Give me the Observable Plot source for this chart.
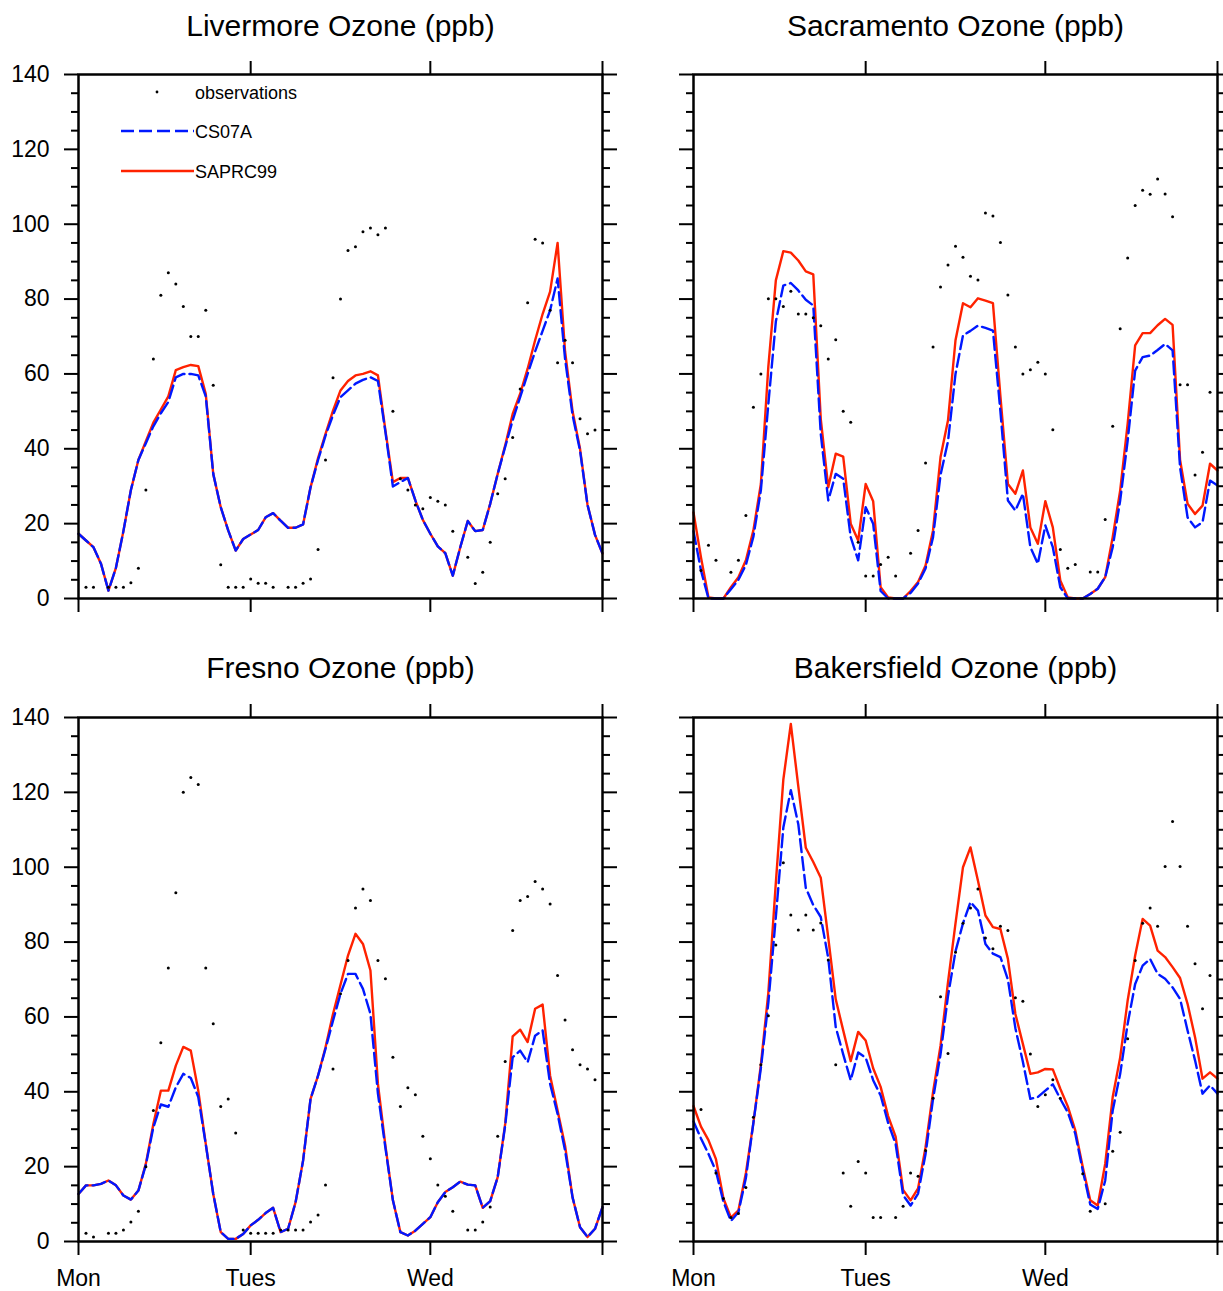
<!DOCTYPE html>
<html><head><meta charset="utf-8">
<script src="https://cdn.jsdelivr.net/npm/d3@7"></script>
<script src="https://cdn.jsdelivr.net/npm/@observablehq/plot@0.6"></script>
<style>
body{margin:0;background:#fff;overflow:hidden}
#wrap{position:relative;width:1223px;height:1291px;overflow:hidden;background:#fff}
.p{position:absolute}
.p svg{max-width:none !important}
</style></head><body><div id="wrap"></div>
<script>
// hour index along the three-day period (Mon 00 ... )
const hours = d3.range(71);
const xTicks = [0, 23, 47, 70];
const xTopTicks = [23, 47, 70];
const dayLabels = ["Mon", "Tues", "Wed", ""];
const yMajor = [0, 20, 40, 60, 80, 100, 120, 140];
const yMinor = [5,10,15,25,30,35,45,50,55,65,70,75,85,90,95,105,110,115,125,130,135];
const seriesNames = ["observations", "CS07A", "SAPRC99"];

const livermoreSAPRC99 = [
17.3,15.5,13.7,9.3,2.1,8.2,18,29,37,42,
47,50.5,54,61,61.8,62.4,62.1,54.7,33.3,24.4,
18.2,12.8,15.9,17.1,18.3,21.7,22.8,20.8,18.9,18.9,
19.8,29.7,37.5,44,50.2,55.6,58.1,59.6,60,60.7,
59.6,44.9,31.1,32.2,32.2,26.2,21,17.3,13.9,12.1,
6.1,13.7,20.7,18,18.3,25.3,33.3,40.9,49.3,54.7,
61.4,69,76,82,95,66,50,40,25,17,
12];
const livermoreCS07A = [
17.3,15.5,13.7,9.3,2.1,8.2,18,29,37,41.5,
46,49.5,52.5,59.1,60,60,59.6,54,33.3,24.4,
18.2,12.8,15.9,17.1,18.3,21.7,22.8,20.8,18.9,18.9,
19.8,29.7,37,43.5,49,53.8,55.6,57.4,58.4,59.1,
58.1,44.5,29.9,31.1,32.2,26.2,21,17.3,13.9,12.1,
6.1,13.7,20.7,18,18.3,25.3,33.3,40.5,47.6,53.8,
60,66,71.5,77,85.5,64,49,39.5,25,17,
12];
const livermoreObs = [
null,3,3,null,3,3,3,4.2,8.1,29,
64,81,87,84,78,70,70,77,57,9,
3,3,3,5.2,4.1,4.1,3,null,3,3,
4.1,5.2,13.1,37,59,80,93,94,98,99,
97.2,99,50,32,29,25,24,27,26,25,
18,null,11,4,7,15,28,32,43,56,
79,96,95,77,63,69,63,48,44,45,
null];

const sacramentoSAPRC99 = [
23,11,0.3,0,0,3,5.7,10.2,18.2,30.6,
62,85,92.8,92.4,90.3,87.4,86.6,48,29.7,38.7,
37.9,20,15.5,30.6,26,3,0.3,0,0,2,
4.4,8.8,18.2,37.8,47.6,69,78.9,77.8,80.2,79.6,
78.9,54,30.6,28,34.2,19,14.6,26,19,4.8,
0.3,0,0,1.2,2.6,5.7,16.4,28.9,46.7,67.6,
70.9,70.9,73,74.7,73.1,37,25.3,22.6,24.8,36,
34.2];
const sacramentoCS07A = [
18,7.5,0,0,0,2.5,5,9,16.5,28.9,
52,74,83.6,84.3,82.3,79.8,78.3,44,26.2,33.3,
32,16.4,10.2,24.4,20,2,0,0,0,1.5,
4,8,16.4,33,42,60,70.3,71.5,72.9,72.3,
71.6,50,26.2,23.5,28,13.7,9.3,19.5,13.7,3,
0,0,0,1.2,2.6,5.7,13.7,26.2,42.2,60.9,
64.5,64.9,66.4,68,66.3,35,21.7,19,20.4,31.5,
30.2];
const sacramentoObs = [
null,7.5,14.2,10.2,null,7,10.2,22.2,51.1,60,
80.1,80.1,78,82.1,76,76,75,72.9,64,69.1,
50,47.1,15,6,6,9.1,11,6,null,12.1,
18.2,36.2,67.2,83.2,89.1,94.1,91.2,86.1,85.1,103,
102.2,95.1,81.1,67.2,60,61.1,63.1,60,45.1,13.1,
8.1,9.1,null,7.1,7.1,21.1,46,72.1,91,105,
109.1,108,112.1,108.1,102,57.1,57.1,33,39.1,55.1,
null];

const fresnoSAPRC99 = [
12.7,15,15,15.4,16.3,15,12.3,11.2,13.6,20.8,
31.4,40.3,40.3,47,52,51,40.3,26.1,12.7,2.5,
0.7,0.7,2,4.3,5.8,7.6,9,2.5,3.4,10.5,
21.6,38.1,44.3,51.9,60.8,68.6,76.4,82.2,79.5,72.4,
42.1,25.6,11,2.5,1.6,2.9,4.7,6.5,10.5,13.2,
14.5,16,15.2,15,9,10.8,17.2,31.4,54.8,56.6,
53.3,62.2,63.3,44.3,35,25.6,11.8,3.8,1.2,3.4,
9.2];
const fresnoCS07A = [
12.7,15,15,15.4,16.3,15,12.3,11.2,13.6,20.5,
30.5,36.6,36,41.2,44.8,43.7,38.6,26,12.7,2.5,
0.7,0.7,2,4.3,5.8,7.6,9,2.5,3.4,10.5,
21.6,38.1,44.3,51.5,59,66.2,71.5,71.5,67.5,60.8,
39.5,25,11,2.5,1.6,2.9,4.7,6.5,10.5,13.2,
14.5,16,15.2,15,9,10.8,17.2,31,49.2,51,
47.9,55,56.4,42.1,34.1,24.3,11.8,3.8,1.2,3.4,
9.2];
const fresnoObs = [
null,2.2,1.2,null,2.2,2.2,3.1,5.2,8.1,20,
35,53.1,73.1,93.2,120,124,122.1,73.1,58.2,36.1,
38.1,29,3.1,2.2,2.2,2.2,2.2,3.1,3.1,3.1,
3.1,5.2,7.1,15.1,46.1,66.2,75.1,89.1,94.2,91.1,
75.1,70.2,49.2,36.1,41.1,39.2,28.1,22.1,15.1,12.1,
8.1,null,3.1,3.1,5.2,9.2,28.1,48.1,83.1,91.1,
92.2,96.2,94.2,90.2,71.1,59.2,51.2,47.2,46.1,43.2,
null];

const bakersfieldSAPRC99 = [
36.2,30.7,27.1,22,11.5,6.4,8.3,18.3,31.7,47.2,
66.5,95.9,123.4,138.3,121.6,105.2,101.4,97.2,81.2,64.7,
56.4,48.2,56,53.7,46.3,41.3,33.5,28,13.8,11,
14.2,25.2,39.9,52.3,69.3,85,100,105.3,96.4,87.1,
84,83.5,75.5,60.8,52.8,44.8,45.2,46.1,46,40.8,
36.1,29.7,19.9,11,9.6,20.8,38.6,49.2,64.4,76.4,
86.2,84.4,77.7,76,73.3,70.4,63.5,54.6,43.5,45.2,
43.5];
const bakersfieldCS07A = [
32.1,27.5,23.4,18.8,10.6,5.5,7.8,17,31.7,46.3,
63.8,86.7,110.6,120.6,111.5,94.5,89.9,86.7,75.7,57.3,
50,43.1,50.5,49.1,43.1,39,31.7,26.1,12.4,9.6,
12.8,23.4,38.1,50,65.6,77.5,85,90.7,88.4,79.5,
76.9,76,70,57,48,38.1,38.6,40.3,42,38.1,
34.5,28.8,19,9.9,8.7,16.3,35,44.8,58.2,68.8,
73.7,75.5,71.5,70.2,67.9,64.8,56.4,48.4,39.5,41.7,
39.5];
const bakersfieldObs = [
null,35.3,null,18.3,11.5,6.4,7.5,14.4,33.2,47.2,
60.3,79.2,101.2,87.2,83.2,87.2,83.2,85.1,75.2,47.2,
18.3,9.4,21.4,18.3,6.4,6.4,null,6.4,9.4,18.3,
17.4,24.3,38.3,65.4,50.2,77.3,85,89.1,94.2,81.1,
78.2,84.2,83.1,65.1,64.2,50.1,36.1,39.2,43.2,38.3,
null,null,18.1,8.1,null,10.1,24.1,29.2,54.2,75.1,
85,89.1,84.2,100.2,112.2,100.2,84.2,74.2,62.2,71.1,
null];

const stations = [
  {title: "Livermore Ozone (ppb)", obs: livermoreObs, cs: livermoreCS07A, sap: livermoreSAPRC99, col: 0, row: 0, legend: true},
  {title: "Sacramento Ozone (ppb)", obs: sacramentoObs, cs: sacramentoCS07A, sap: sacramentoSAPRC99, col: 1, row: 0},
  {title: "Fresno Ozone (ppb)", obs: fresnoObs, cs: fresnoCS07A, sap: fresnoSAPRC99, col: 0, row: 1},
  {title: "Bakersfield Ozone (ppb)", obs: bakersfieldObs, cs: bakersfieldCS07A, sap: bakersfieldSAPRC99, col: 1, row: 1}
];

const RED = "#ff2200", BLUE = "#0018ff";
const FONT = "'Liberation Sans', Arial, Helvetica, sans-serif";
const blank = () => "";

function legendMark(index, scales, values, dims) {
  const g = d3.create("svg:g").attr("font-family", FONT).attr("font-size", 18)
    .attr("fill", "black").attr("text-anchor", "start");
  const x0 = dims.marginLeft, y0 = dims.marginTop;
  g.append("circle").attr("cx", x0 + 79).attr("cy", y0 + 18).attr("r", 1.4).attr("fill", "black");
  g.append("line").attr("x1", x0 + 43).attr("x2", x0 + 116).attr("y1", y0 + 57).attr("y2", y0 + 57)
    .attr("stroke", BLUE).attr("stroke-width", 2.4).attr("stroke-dasharray", "13,5");
  g.append("line").attr("x1", x0 + 43).attr("x2", x0 + 116).attr("y1", y0 + 97).attr("y2", y0 + 97)
    .attr("stroke", RED).attr("stroke-width", 2.4);
  const ys = [19, 58, 98];
  seriesNames.forEach((t, i) => {
    g.append("text").attr("x", x0 + 117).attr("y", y0 + ys[i]).attr("dy", "0.35em").text(t);
  });
  return g.node();
}

const wrap = document.getElementById("wrap");
for (const s of stations) {
  const width = s.col === 0 ? 615 : 630;
  const height = s.row === 0 ? 643 : 648;
  const marginTop = 74, marginLeft = 78;
  const toRows = arr => arr.map((v, i) => ({hour: hours[i], value: v}));
  const marks = [
    Plot.line(toRows(s.sap), {x: "hour", y: "value", stroke: RED, strokeWidth: 2.4}),
    Plot.line(toRows(s.cs), {x: "hour", y: "value", stroke: BLUE, strokeWidth: 2.4, strokeDasharray: "13,5"}),
    Plot.dot(toRows(s.obs).filter(d => d.value != null), {x: "hour", y: "value", r: 1.5, fill: "black", stroke: "none"}),
    Plot.frame({stroke: "black", strokeWidth: 2.5}),
    Plot.axisY(yMajor, {anchor: "left", tickSize: 14, tickPadding: 15, strokeWidth: 2, fontSize: 23,
      tickFormat: s.col === 0 ? (d => String(d)) : blank, label: null}),
    Plot.axisY(yMinor, {anchor: "left", tickSize: 7, strokeWidth: 2, tickFormat: blank, label: null}),
    Plot.axisY(yMajor, {anchor: "right", tickSize: 14, strokeWidth: 2, tickFormat: blank, label: null}),
    Plot.axisY(yMinor, {anchor: "right", tickSize: 7, strokeWidth: 2, tickFormat: blank, label: null}),
    Plot.axisX(xTopTicks, {anchor: "top", tickSize: 14, strokeWidth: 2, tickFormat: blank, label: null}),
    Plot.axisX(xTicks, {anchor: "bottom", tickSize: 14, tickPadding: 14, strokeWidth: 2, fontSize: 23,
      tickFormat: s.row === 1 ? (d => dayLabels[xTicks.indexOf(d)]) : blank, label: null}),
    Plot.text([s.title], {text: d => d, frameAnchor: "top", lineAnchor: "middle",
      dy: s.row === 0 ? -48 : -49, fontSize: 30, fill: "black"})
  ];
  if (s.legend) marks.push(legendMark);
  const svg = Plot.plot({
    width, height,
    marginTop, marginLeft,
    marginRight: width - marginLeft - 524,
    marginBottom: height - marginTop - 524,
    x: {domain: [0, 70], axis: null},
    y: {domain: [0, 140], axis: null},
    style: {fontFamily: FONT, background: "transparent", color: "black", overflow: "visible", maxWidth: "none"},
    marks
  });
  const div = document.createElement("div");
  div.className = "p";
  div.style.left = (s.col === 0 ? 0 : 615) + "px";
  div.style.top = (s.row === 0 ? 0 : 643) + "px";
  div.style.width = width + "px";
  div.style.height = height + "px";
  div.appendChild(svg);
  wrap.appendChild(div);
}
</script></body></html>
